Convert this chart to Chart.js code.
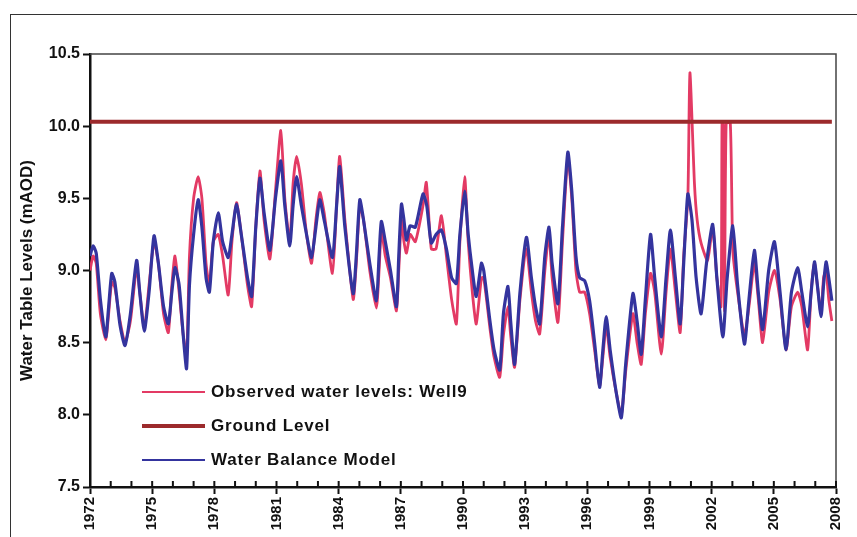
<!DOCTYPE html>
<html>
<head>
<meta charset="utf-8">
<script src="https://cdn.jsdelivr.net/npm/chart.js@4.4.1/dist/chart.umd.min.js"></script>
<style>
  body { margin: 0; background: #fff; }
  #wrap { position: relative; width: 857px; height: 537px; overflow: hidden; }
  #frame { position: absolute; left: 10px; top: 14px; width: 900px; height: 600px;
           border-left: 1.5px solid #333; border-top: 1.5px solid #333; }
  #chart { position: absolute; left: 0; top: 0; }
  #legend { position: absolute; left: 142px; top: 375px;
            font: bold 17px "Liberation Sans", Arial, sans-serif; letter-spacing: 0.8px; color: #111; }
  .row { display: flex; align-items: center; height: 34px; }
  .swatch { width: 63px; margin-right: 6px; }
</style>
</head>
<body>
<div id="wrap">
  <div id="frame"></div>
  <canvas id="chart" width="857" height="537"></canvas>
  <div id="legend"></div>
</div>
<script>
// ====== Data (decimal years, levels in mAOD) ======
const modelYears = [
  1972.0, 1972.15, 1972.3, 1972.5, 1972.76, 1972.9, 1973.05, 1973.2, 1973.45, 1973.69, 1973.95,
  1974.25, 1974.4, 1974.62, 1974.85, 1975.09, 1975.3, 1975.55, 1975.78, 1975.95, 1976.1, 1976.3,
  1976.5, 1976.66, 1976.8, 1977.0, 1977.22, 1977.4, 1977.6, 1977.76, 1977.95, 1978.19, 1978.4,
  1978.67, 1978.85, 1979.07, 1979.3, 1979.6, 1979.8, 1980.0, 1980.2, 1980.4, 1980.68, 1980.95,
  1981.21, 1981.4, 1981.64, 1981.8, 1981.97, 1982.2, 1982.45, 1982.69, 1982.9, 1983.09, 1983.3,
  1983.7, 1983.9, 1984.05, 1984.3, 1984.7, 1984.85, 1985.02, 1985.2, 1985.5, 1985.82, 1985.95,
  1986.06, 1986.25, 1986.5, 1986.79, 1986.9, 1987.03, 1987.15, 1987.27, 1987.45, 1987.7, 1988.07,
  1988.25, 1988.47, 1988.7, 1988.96, 1989.2, 1989.45, 1989.68, 1989.85, 1990.08, 1990.25, 1990.45,
  1990.64, 1990.89, 1991.0, 1991.3, 1991.5, 1991.77, 1991.95, 1992.17, 1992.3, 1992.49, 1992.75,
  1993.06, 1993.3, 1993.5, 1993.7, 1993.95, 1994.15, 1994.3, 1994.58, 1994.8, 1995.06, 1995.25,
  1995.45, 1995.63, 1995.87, 1996.11, 1996.35, 1996.59, 1996.75, 1996.91, 1997.1, 1997.4, 1997.64,
  1997.85, 1998.2, 1998.4, 1998.6, 1998.8, 1999.05, 1999.25, 1999.57, 1999.8, 2000.01, 2000.25,
  2000.48, 2000.65, 2000.85, 2001.05, 2001.25, 2001.49, 2001.75, 2002.05, 2002.25, 2002.54, 2002.75,
  2003.02, 2003.25, 2003.58, 2003.8, 2004.06, 2004.25, 2004.46, 2004.75, 2005.03, 2005.3, 2005.59,
  2005.85, 2006.15, 2006.35, 2006.63, 2006.8, 2006.96, 2007.1, 2007.28, 2007.4, 2007.52, 2007.65, 2007.8
];
const modelLevels = [
  9.10, 9.17, 9.12, 8.80, 8.54, 8.75, 8.98, 8.92, 8.62, 8.48, 8.70,
  9.07, 8.85, 8.58, 8.85, 9.24, 9.05, 8.75, 8.63, 8.85, 9.02, 8.90,
  8.55, 8.32, 8.90, 9.25, 9.49, 9.30, 8.95, 8.85, 9.20, 9.40, 9.20,
  9.09, 9.25, 9.46, 9.25, 8.95, 8.82, 9.30, 9.64, 9.40, 9.14, 9.50,
  9.76, 9.45, 9.17, 9.45, 9.65, 9.45, 9.25, 9.09, 9.30, 9.49, 9.35,
  9.09, 9.45, 9.72, 9.30, 8.84, 9.10, 9.49, 9.35, 9.05, 8.79, 9.10,
  9.34, 9.20, 9.00, 8.75, 9.10, 9.46, 9.35, 9.21, 9.31, 9.30, 9.53,
  9.45, 9.19, 9.25, 9.28, 9.15, 8.95, 8.91, 9.25, 9.55, 9.25, 9.00,
  8.82, 9.05, 9.00, 8.65, 8.45, 8.31, 8.70, 8.89, 8.65, 8.35, 8.85,
  9.23, 8.95, 8.75, 8.63, 9.10, 9.30, 9.05, 8.77, 9.30, 9.82, 9.55,
  9.10, 8.95, 8.93, 8.79, 8.50, 8.19, 8.45, 8.68, 8.45, 8.15, 7.98,
  8.35, 8.84, 8.65, 8.42, 8.80, 9.25, 8.95, 8.54, 8.95, 9.28, 8.95,
  8.63, 9.05, 9.53, 9.35, 8.95, 8.70, 9.05, 9.32, 8.95, 8.54, 8.95,
  9.31, 8.90, 8.49, 8.80, 9.14, 8.85, 8.59, 9.00, 9.20, 8.85, 8.45,
  8.85, 9.02, 8.85, 8.61, 8.85, 9.06, 8.90, 8.68, 8.90, 9.06, 8.95, 8.79
];

const obsYears = [
  1972.0, 1972.15, 1972.3, 1972.5, 1972.76, 1972.9, 1973.05, 1973.2, 1973.45, 1973.69, 1973.95,
  1974.25, 1974.4, 1974.62, 1974.85, 1975.09, 1975.3, 1975.55, 1975.78, 1975.95, 1976.1, 1976.3,
  1976.5, 1976.66, 1976.8, 1977.0, 1977.22, 1977.4, 1977.6, 1977.76, 1977.95, 1978.19, 1978.4,
  1978.67, 1978.85, 1979.07, 1979.3, 1979.6, 1979.8, 1980.0, 1980.2, 1980.4, 1980.68, 1980.95,
  1981.21, 1981.4, 1981.64, 1981.8, 1981.97, 1982.2, 1982.45, 1982.69, 1982.9, 1983.09, 1983.3,
  1983.7, 1983.9, 1984.05, 1984.3, 1984.7, 1984.85, 1985.02, 1985.2, 1985.5, 1985.82, 1985.95,
  1986.06, 1986.25, 1986.5, 1986.79, 1986.9, 1987.03, 1987.15, 1987.27, 1987.45, 1987.7, 1988.07,
  1988.23, 1988.47, 1988.7, 1988.96, 1989.2, 1989.45, 1989.68, 1989.85, 1990.08, 1990.25, 1990.45,
  1990.64, 1990.89, 1991.0, 1991.3, 1991.5, 1991.77, 1991.95, 1992.17, 1992.3, 1992.49, 1992.75,
  1993.06, 1993.3, 1993.5, 1993.7, 1993.95, 1994.15, 1994.3, 1994.58, 1994.8, 1995.06, 1995.25,
  1995.45, 1995.63, 1995.87, 1996.11, 1996.35, 1996.59, 1996.75, 1996.91, 1997.1, 1997.4, 1997.64,
  1997.85, 1998.2, 1998.4, 1998.6, 1998.8, 1999.05, 1999.25, 1999.57, 1999.8, 2000.01, 2000.25,
  2000.48, 2000.65, 2000.85, 2000.95, 2001.17, 2001.3, 2001.49, 2001.8, 2002.05, 2002.25, 2002.45,
  2002.5, 2002.56, 2002.62, 2002.7, 2002.9, 2003.02, 2003.25, 2003.58, 2003.8, 2004.06, 2004.25, 2004.46,
  2004.75, 2005.03, 2005.3, 2005.59, 2005.85, 2006.15, 2006.35, 2006.63, 2006.8, 2006.96, 2007.1,
  2007.28, 2007.4, 2007.52, 2007.65, 2007.8
];
const obsLevels = [
  9.00, 9.10, 9.05, 8.70, 8.52, 8.70, 8.92, 8.88, 8.65, 8.50, 8.65,
  9.02, 8.85, 8.60, 8.90, 9.20, 9.05, 8.70, 8.57, 8.90, 9.10, 8.85,
  8.55, 8.40, 9.10, 9.50, 9.65, 9.50, 9.05, 8.90, 9.20, 9.25, 9.10,
  8.83, 9.20, 9.47, 9.25, 8.90, 8.75, 9.30, 9.69, 9.35, 9.08, 9.55,
  9.97, 9.50, 9.20, 9.60, 9.79, 9.60, 9.25, 9.05, 9.35, 9.54, 9.40,
  8.98, 9.45, 9.79, 9.35, 8.80, 9.05, 9.45, 9.35, 9.00, 8.74, 9.00,
  9.28, 9.10, 8.95, 8.72, 9.00, 9.35, 9.20, 9.12, 9.25, 9.20, 9.45,
  9.61, 9.15, 9.15, 9.38, 9.10, 8.80, 8.63, 9.20, 9.65, 9.20, 8.85,
  8.63, 8.95, 8.95, 8.60, 8.40, 8.26, 8.55, 8.75, 8.55, 8.33, 8.80,
  9.15, 8.85, 8.65, 8.56, 9.00, 9.25, 8.95, 8.64, 9.20, 9.78, 9.50,
  9.00, 8.85, 8.85, 8.70, 8.45, 8.20, 8.40, 8.62, 8.40, 8.15, 8.00,
  8.30, 8.70, 8.50, 8.35, 8.70, 8.98, 8.85, 8.42, 8.85, 9.15, 8.85,
  8.57, 9.10, 9.50, 10.37, 9.60, 9.35, 9.19, 9.07, 9.30, 8.95, 8.75,
  10.02, 10.02, 8.72, 10.02, 10.02, 9.14, 8.85, 8.55, 8.75, 9.05, 8.80, 8.50,
  8.85, 9.00, 8.80, 8.45, 8.75, 8.85, 8.75, 8.45, 8.85, 9.05, 8.90,
  8.70, 8.95, 9.00, 8.80, 8.65
];

const groundYears  = [1972, 2007.8];
const groundLevels = [10.03, 10.03];

const yTicks = [7.5, 8.0, 8.5, 9.0, 9.5, 10.0, 10.5];
const xLabelYears = [1972, 1975, 1978, 1981, 1984, 1987, 1990, 1993, 1996, 1999, 2002, 2005, 2008];

const FONT = '"Liberation Sans", Arial, sans-serif';

function toPoints(xs, ys) {
  return xs.map((x, i) => ({ x, y: ys[i] }));
}

// small inward tick at every year, plus thin top/right frame of the plot
const plotFrame = {
  id: "plotFrame",
  afterDraw(chart) {
    const { ctx, chartArea: a, scales } = chart;
    ctx.save();
    ctx.strokeStyle = "#444";
    ctx.lineWidth = 1.5;
    ctx.beginPath();
    ctx.moveTo(a.left, a.top);
    ctx.lineTo(a.right, a.top);
    ctx.lineTo(a.right, a.bottom);
    ctx.stroke();

    ctx.strokeStyle = "#111";
    ctx.lineWidth = 2;
    ctx.beginPath();
    for (let yr = 1972; yr <= 2008; yr++) {
      const px = scales.x.getPixelForValue(yr);
      ctx.moveTo(px, a.bottom);
      ctx.lineTo(px, a.bottom - 6);
    }
    ctx.stroke();
    ctx.restore();
  }
};

const obsSet = {
  label: "Observed water levels: Well9",
  data: toPoints(obsYears, obsLevels),
  borderColor: "#E33A64",
  borderWidth: 2.8,
  tension: 0.2
};
const groundSet = {
  label: "Ground Level",
  data: toPoints(groundYears, groundLevels),
  borderColor: "#9C2A2C",
  borderWidth: 4,
  tension: 0
};
const modelSet = {
  label: "Water Balance Model",
  data: toPoints(modelYears, modelLevels),
  borderColor: "#34349E",
  borderWidth: 3.2,
  tension: 0.2
};

// dataset 0 is painted last, so the model sits on top
const chart = new Chart(document.getElementById("chart"), {
  type: "line",
  data: { datasets: [modelSet, groundSet, obsSet] },
  options: {
    responsive: false,
    animation: false,
    devicePixelRatio: 1,
    layout: { padding: { top: 54, right: 20, left: 0, bottom: 0 } },
    elements: { point: { radius: 0 } },
    plugins: { legend: { display: false }, tooltip: { enabled: false } },
    scales: {
      x: {
        type: "linear",
        min: 1972,
        max: 2008,
        afterFit: s => { s.height = 50; },
        border: { color: "#111", width: 2.5 },
        grid: {
          drawOnChartArea: false,
          tickLength: 7,
          tickWidth: 2,
          tickColor: c => (xLabelYears.includes(c.tick && c.tick.value) ? "#111" : "rgba(0,0,0,0)")
        },
        ticks: {
          stepSize: 1,
          autoSkip: false,
          minRotation: 90,
          maxRotation: 90,
          padding: 3,
          color: "#111",
          font: { family: FONT, size: 15, weight: "bold" },
          callback: v => (xLabelYears.includes(v) ? String(v) : "")
        }
      },
      y: {
        min: 7.5,
        max: 10.5,
        afterFit: s => { s.width = 90; },
        afterBuildTicks: s => { s.ticks = yTicks.map(v => ({ value: v })); },
        border: { color: "#111", width: 2.5 },
        grid: { drawOnChartArea: false, tickLength: 7, tickWidth: 2, tickColor: "#111" },
        ticks: {
          padding: 3,
          color: "#111",
          font: { family: FONT, size: 16, weight: "bold" },
          callback: v => v.toFixed(1)
        },
        title: {
          display: true,
          text: "Water Table Levels (mAOD)",
          color: "#111",
          font: { family: FONT, size: 17, weight: "bold" },
          padding: { top: 17, bottom: 0 }
        }
      }
    }
  },
  plugins: [plotFrame]
});

// ====== Legend (HTML, inside the plot) ======
function renderLegend() {
  const el = document.getElementById("legend");
  el.innerHTML = [obsSet, groundSet, modelSet].map(ds => `
    <div class="row">
      <div class="swatch" style="border-top:${ds.borderWidth > 3.5 ? 4 : 2}px solid ${ds.borderColor}"></div>
      <span>${ds.label}</span>
    </div>
  `).join("");
}
renderLegend();
</script>
</body>
</html>
